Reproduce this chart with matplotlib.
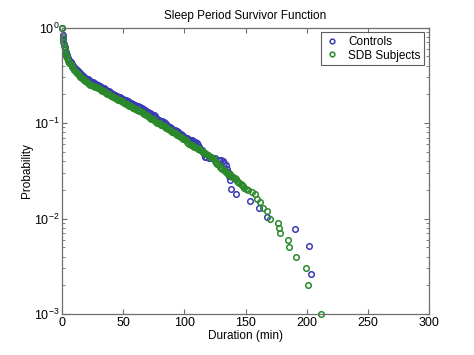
import matplotlib
matplotlib.use("Agg")
import matplotlib.pyplot as plt
from matplotlib.ticker import LogLocator, NullFormatter

plt.rcParams["font.family"] = ["Liberation Sans", "DejaVu Sans"]
plt.rcParams["font.size"] = 9
plt.rcParams["mathtext.fontset"] = "custom"
plt.rcParams["mathtext.rm"] = "Liberation Sans"

blue = "#3a3ab4"
green = "#2a8a2a"
spine_grey = "#6e6e6e"

# Controls: duration (min) and survivor probability
ctrl_dur = [0, 0.5, 1, 1.5, 2, 2.5, 3, 4, 5, 6, 7, 8, 9,
            10, 11, 12, 13, 14, 15, 16, 17, 18, 19, 20, 21, 22, 23, 24, 25,
            26, 27, 28, 29, 30, 31, 32, 33, 34, 35, 36, 37, 38, 39, 40, 41,
            42, 43, 44, 45, 46, 47, 48, 49, 50, 51, 52, 53, 54, 55, 56, 57,
            58, 59, 60, 61, 62, 63, 64, 65, 66, 67, 68, 69, 70, 71, 72, 73,
            74, 75, 76, 77, 78, 79, 80, 81, 82, 83, 84, 85, 86, 87, 88, 89,
            90, 91, 92, 93, 94, 95, 96, 97, 98, 99, 100, 101, 102, 103, 104,
            105, 106, 107, 108, 109, 110, 111, 112, 113, 114, 115, 116, 117,
            118, 120, 122, 125, 128, 130, 131.9, 132.4, 134, 135, 135.5,
            136.8, 137.5, 138.2, 142, 153.7, 161, 167.3, 190.5, 201.9, 203.3]
ctrl_prob = [1.0, 0.83, 0.75, 0.68, 0.63, 0.59, 0.56, 0.51, 0.48, 0.455, 0.435,
             0.415, 0.40,
             0.385, 0.372, 0.360, 0.350, 0.340, 0.331, 0.322, 0.314, 0.306,
             0.299, 0.292, 0.286, 0.281, 0.276, 0.271, 0.266, 0.262, 0.258,
             0.254, 0.250, 0.246, 0.242, 0.238, 0.234, 0.230, 0.226, 0.222,
             0.218, 0.214, 0.210, 0.207, 0.203, 0.200, 0.197, 0.194, 0.191,
             0.189, 0.186, 0.183, 0.180, 0.178, 0.175, 0.173, 0.170, 0.168,
             0.165, 0.163, 0.160, 0.158, 0.156, 0.154, 0.152, 0.150, 0.148,
             0.146, 0.143, 0.141, 0.138, 0.136, 0.133, 0.131, 0.128, 0.126,
             0.124, 0.122, 0.120, 0.117, 0.114, 0.110, 0.108, 0.106, 0.105,
             0.104, 0.102, 0.100, 0.097, 0.094, 0.092, 0.090, 0.0885, 0.087,
             0.0855, 0.084, 0.083, 0.082, 0.0805, 0.079, 0.077, 0.075, 0.0735,
             0.072, 0.0705, 0.069, 0.068, 0.067, 0.066, 0.066, 0.065, 0.064,
             0.063, 0.062, 0.059, 0.056, 0.054, 0.052, 0.050, 0.047, 0.0445,
             0.044, 0.0435, 0.043, 0.0425, 0.041, 0.0405, 0.0400, 0.0385,
             0.036, 0.033, 0.031, 0.028, 0.0256, 0.0205, 0.018, 0.0154, 0.0128,
             0.0103, 0.0077, 0.0051, 0.0026]

# SDB subjects
sdb_dur = [0, 0.5, 1, 1.5, 2, 2.5, 3, 3.5, 4, 5, 6, 7, 8, 9,
           10, 11, 12, 13, 14, 15, 16, 17, 18, 19, 20, 21, 22, 23, 24, 25, 26,
           27, 28, 29, 30, 31, 32, 33, 34, 35, 36, 37, 38, 39, 40, 41, 42, 43,
           44, 45, 46, 47, 48, 49, 50, 51, 52, 53, 54, 55, 56, 57, 58, 59, 60,
           61, 62, 63, 64, 65, 66, 67, 68, 69, 70, 71, 72, 73, 74, 75, 76, 77,
           78, 79, 80, 81, 82, 83, 84, 85, 86, 87, 88, 89, 90, 91, 92, 93, 94,
           95, 96, 97, 98, 99, 100, 101, 102, 103, 104, 105, 106, 107, 108,
           109, 110, 111, 112, 113, 114, 115, 116, 117, 118, 119, 120, 121,
           122, 123, 124, 125, 126, 127, 128, 129, 130, 131, 132, 133, 134,
           135, 136, 137, 138, 139, 140, 141, 142, 143, 144, 145, 146, 147,
           148, 149, 150, 152, 155, 157.8, 159.2, 162, 164.6, 167.3, 170,
           176.8, 177.6, 178.2, 185, 185.8, 191, 199.5, 201.1, 211.7]
sdb_prob = [1.0, 0.80, 0.70, 0.64, 0.59, 0.55, 0.52, 0.50, 0.48, 0.45, 0.43,
            0.41, 0.39, 0.375,
            0.360, 0.345, 0.335, 0.325, 0.315, 0.305, 0.297, 0.289, 0.281,
            0.274, 0.267, 0.262, 0.257, 0.253, 0.249, 0.245, 0.242, 0.239,
            0.236, 0.233, 0.230, 0.226, 0.222, 0.218, 0.214, 0.210, 0.206,
            0.202, 0.199, 0.196, 0.193, 0.190, 0.187, 0.184, 0.181, 0.178,
            0.176, 0.173, 0.171, 0.168, 0.166, 0.163, 0.160, 0.157, 0.155,
            0.152, 0.150, 0.147, 0.145, 0.142, 0.140, 0.138, 0.136, 0.134,
            0.132, 0.129, 0.127, 0.125, 0.123, 0.120, 0.118, 0.115, 0.113,
            0.111, 0.109, 0.107, 0.105, 0.103, 0.101, 0.0995, 0.098, 0.096,
            0.0945, 0.093, 0.0915, 0.0895, 0.088, 0.0863, 0.0847, 0.083,
            0.0813, 0.0797, 0.078, 0.0767, 0.0753, 0.074, 0.0727, 0.0713,
            0.070, 0.0687, 0.0673, 0.066, 0.064, 0.062, 0.060, 0.059, 0.0585,
            0.058, 0.0565, 0.0555, 0.055, 0.054, 0.053, 0.052, 0.051, 0.050,
            0.049, 0.048, 0.047, 0.046, 0.045, 0.0445, 0.044, 0.043, 0.0415,
            0.040, 0.0385, 0.037, 0.036, 0.035, 0.034, 0.033, 0.032, 0.0315,
            0.031, 0.030, 0.0295, 0.029, 0.028, 0.0275, 0.027, 0.0263, 0.0257,
            0.025, 0.0243, 0.0237, 0.023, 0.0223, 0.0217, 0.021, 0.0205,
            0.020, 0.019, 0.018, 0.016, 0.015, 0.013, 0.012, 0.010, 0.009,
            0.008, 0.007, 0.006, 0.005, 0.004, 0.003, 0.002, 0.001]

fig = plt.figure(figsize=(4.74, 3.55), dpi=100)
ax = fig.add_axes([0.131, 0.1155, 0.774, 0.807])

ax.plot(ctrl_dur, ctrl_prob, "o", ms=4.0, mfc="none", mec=blue, mew=1.1,
        label="Controls", clip_on=False)
ax.plot(sdb_dur, sdb_prob, "o", ms=4.0, mfc="none", mec=green, mew=1.1,
        label="SDB Subjects", clip_on=False)

ax.set_yscale("log")
ax.set_xlim(0, 300)
ax.set_ylim(1e-3, 1)
ax.set_xticks(range(0, 301, 50))
ax.yaxis.set_minor_locator(LogLocator(base=10, subs=range(2, 10)))
ax.yaxis.set_minor_formatter(NullFormatter())

ax.tick_params(which="both", direction="in", top=True, right=True,
               color=spine_grey, labelsize=9, pad=2)
ax.tick_params(which="major", length=3.5, width=0.8)
ax.tick_params(which="minor", length=2, width=0.6)
for s in ax.spines.values():
    s.set_color(spine_grey)
    s.set_linewidth(0.9)

ax.set_title("Sleep Period Survivor Function", fontsize=8.5, pad=6)
ax.set_xlabel("Duration (min)", fontsize=8.5, labelpad=1)
ax.set_ylabel("Probability", fontsize=8.5, labelpad=0.5)

leg = ax.legend(loc="upper right", numpoints=1, fontsize=8.5, fancybox=False,
                borderaxespad=0.4, handlelength=1.2, handletextpad=0.8,
                borderpad=0.3, labelspacing=0.15, markerscale=0.85)
leg.get_frame().set_edgecolor("#333333")
leg.get_frame().set_linewidth(0.8)

fig.savefig("out.png", dpi=100)
